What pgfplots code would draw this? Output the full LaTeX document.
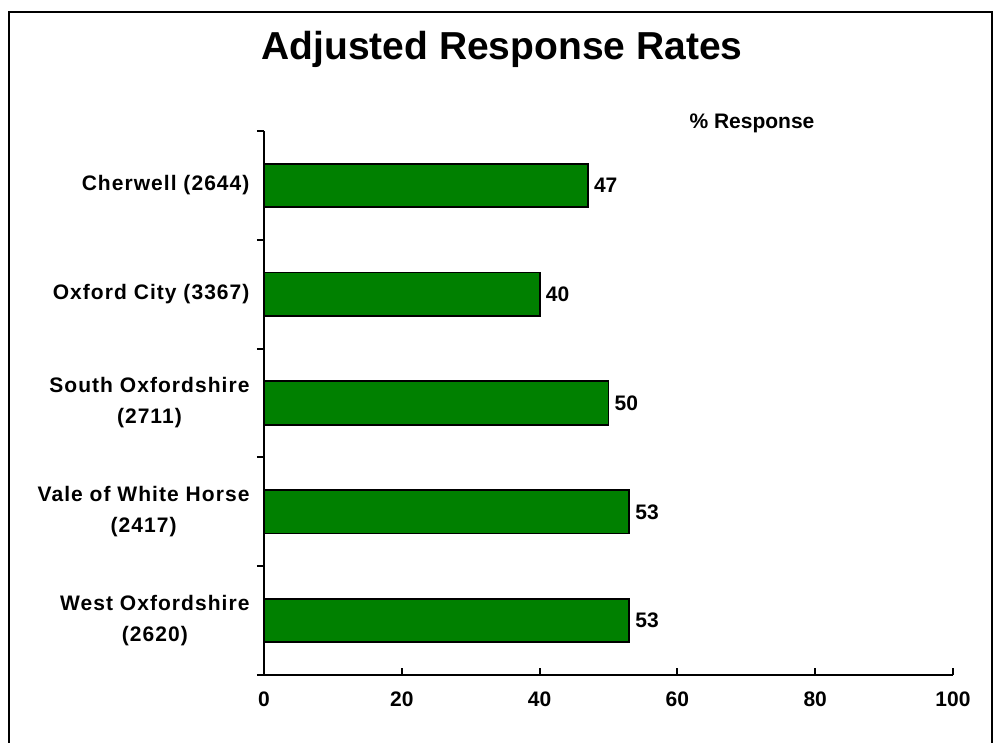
\documentclass[border=0pt]{standalone}
\usepackage{fontspec}
\setmainfont{Liberation Sans}
\usepackage{pgfplots}
\pgfplotsset{compat=1.18}
\definecolor{barg}{RGB}{0,128,0}
\begin{document}
\begin{tikzpicture}
\useasboundingbox (0pt,0pt) rectangle (1005pt,743pt);
\draw[line width=2pt] (9pt,-5pt) rectangle (992pt,731pt);
\node[font=\fontsize{39}{44}\selectfont\bfseries] at (502pt,694pt) {Adjusted Response Rates};
\node[font=\fontsize{21}{25}\selectfont\bfseries] at (752pt,620pt) {\% Response};
\begin{axis}[
  at={(264pt,68pt)}, anchor=south west,
  scale only axis, width=689pt, height=544pt,
  xbar, bar width=0.4,
  xmin=0, xmax=100, ymin=-0.5, ymax=4.5, y dir=reverse,
  axis lines*=left,
  axis line style={line width=2pt},
  xtick={0,20,...,100},
  ytick={0,...,4},
  yticklabels={{Cherwell (2644)},{Oxford City (3367)},{South Oxfordshire\\(2711)},{Vale of White Horse\\(2417)},{West Oxfordshire\\(2620)}},
  minor ytick={-0.5,0.5,...,4.5},
  tick align=inside,
  major tick length=7pt, minor tick length=7pt,
  major y tick style={draw=none},
  minor y tick style={line width=2pt, xshift=-7pt, draw=black},
  major x tick style={line width=2pt, draw=black},
  /pgf/number format/assume math mode=true,
  xticklabel style={font=\fontsize{21}{25}\selectfont\bfseries, yshift=-13pt},
  yticklabel style={font=\fontsize{21}{31}\selectfont\bfseries\addfontfeatures{LetterSpace=5}, align=center, xshift=-11pt},
  nodes near coords,
  every node near coord/.append style={font=\fontsize{21}{25}\selectfont\bfseries, xshift=2pt, black},
  clip=false,
]
\addplot[fill=barg, draw=black, line width=1.8pt] coordinates {(47,0) (40,1) (50,2) (53,3) (53,4)};
\end{axis}
\end{tikzpicture}
\end{document}
